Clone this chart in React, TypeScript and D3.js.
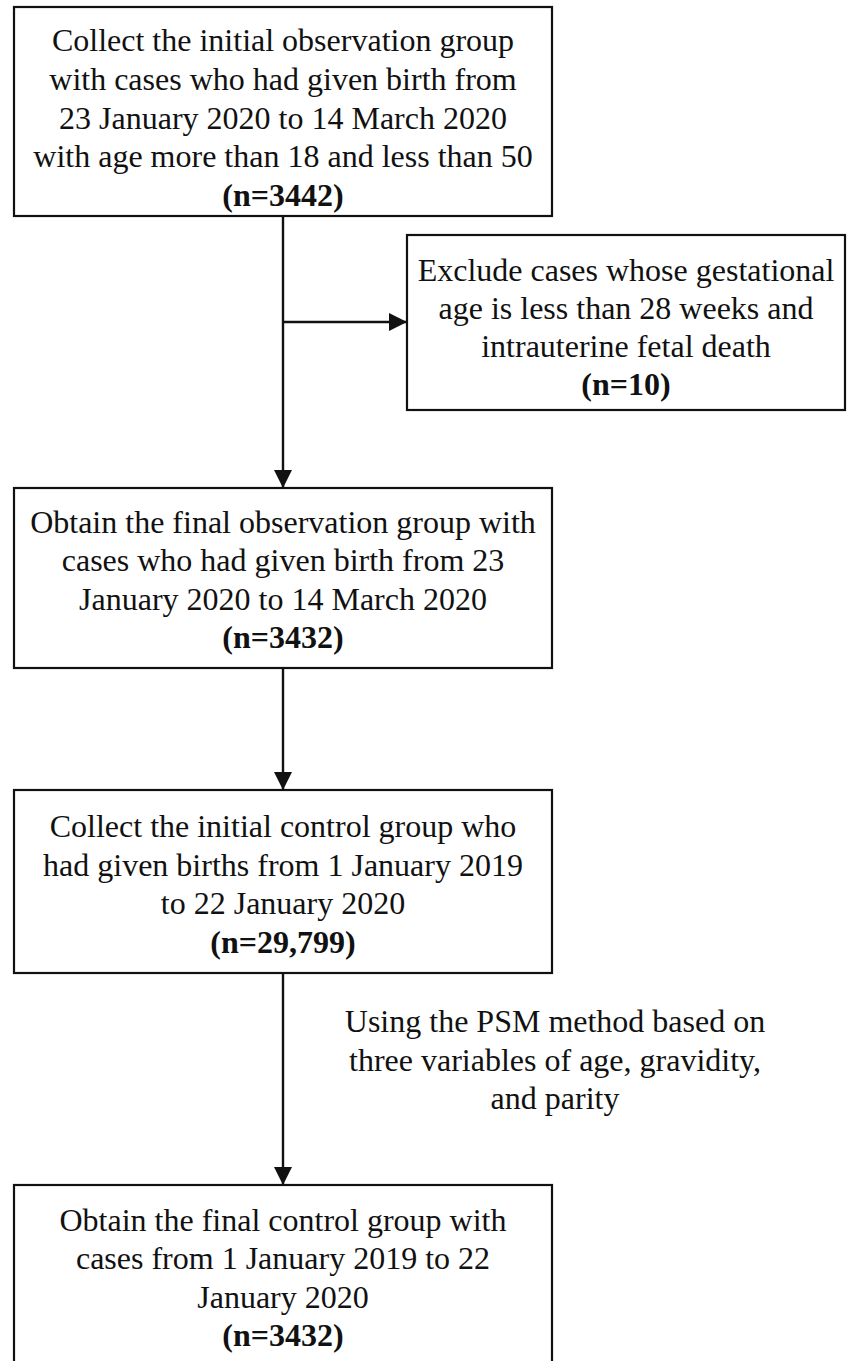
import * as d3 from "d3";

// flowchart content
const box1Lines = [
  "Collect the initial observation group",
  "with cases who had given birth from",
  "23 January 2020 to 14 March 2020",
  "with age more than 18 and less than 50",
];
const box1Count = "(n=3442)";

const excludeLines = [
  "Exclude cases whose gestational",
  "age is less than 28 weeks and",
  "intrauterine fetal death",
];
const excludeCount = "(n=10)";

const box3Lines = [
  "Obtain the final observation group with",
  "cases who had given birth from  23",
  "January 2020 to 14 March 2020",
];
const box3Count = "(n=3432)";

const box4Lines = [
  "Collect the initial control group who",
  "had given births from 1 January 2019",
  "to 22 January 2020",
];
const box4Count = "(n=29,799)";

const psmLines = [
  "Using the PSM method based on",
  "three variables of age, gravidity,",
  "and parity",
];

const box5Lines = [
  "Obtain the final control group with",
  "cases from 1 January 2019 to 22",
  "January 2020",
];
const box5Count = "(n=3432)";

const W = 847;
const H = 1361;
const FONT = "'Liberation Serif', 'Times New Roman', serif";
const FS = 32;

// layout
const nodes = [
  { id: "b1", x0: 14, x1: 552, y0: 7, y1: 216, lines: box1Lines, count: box1Count, firstY: 40, step: 38.8 },
  { id: "b2", x0: 407, x1: 845, y0: 235, y1: 410, lines: excludeLines, count: excludeCount, firstY: 270, step: 38 },
  { id: "b3", x0: 14, x1: 552, y0: 488, y1: 668, lines: box3Lines, count: box3Count, firstY: 522, step: 38.3 },
  { id: "b4", x0: 14, x1: 552, y0: 790, y1: 973, lines: box4Lines, count: box4Count, firstY: 826, step: 38.7 },
  { id: "b5", x0: 14, x1: 552, y0: 1185, y1: 1368, lines: box5Lines, count: box5Count, firstY: 1220, step: 38.3 },
];

const mainX = 283;

const arrows = [
  { x1: mainX, y1: 216, x2: mainX, y2: 488 },
  { x1: mainX, y1: 322, x2: 407, y2: 322 },
  { x1: mainX, y1: 668, x2: mainX, y2: 790 },
  { x1: mainX, y1: 973, x2: mainX, y2: 1185 },
];

const line = d3.line<[number, number]>();

function arrowHead(a: { x1: number; y1: number; x2: number; y2: number }) {
  const ang = Math.atan2(a.y2 - a.y1, a.x2 - a.x1);
  const len = 18;
  const half = 9;
  const bx = a.x2 - len * Math.cos(ang);
  const by = a.y2 - len * Math.sin(ang);
  const px = -Math.sin(ang) * half;
  const py = Math.cos(ang) * half;
  return line([
    [a.x2, a.y2],
    [bx + px, by + py],
    [bx - px, by - py],
  ]) + "Z";
}

export default function App() {
  return (
    <div style={{ position: "absolute", left: 0, top: 0, background: "#fff" }}>
      <svg width={W} height={H} style={{ display: "block", whiteSpace: "pre" }} fontFamily={FONT}>
        <rect width={W} height={H} fill="#fff" />
        {nodes.map((n) => {
          const cx = (n.x0 + n.x1) / 2;
          return (
            <g key={n.id}>
              <rect
                x={n.x0}
                y={n.y0}
                width={n.x1 - n.x0}
                height={n.y1 - n.y0}
                fill="none"
                stroke="#111"
                strokeWidth={2.2}
              />
              {n.lines.map((t, i) => (
                <text
                  key={i}
                  x={cx}
                  y={n.firstY + i * n.step}
                  textAnchor="middle"
                  dominantBaseline="central"
                  fontSize={FS}
                  fill="#111"
                >
                  {t}
                </text>
              ))}
              <text
                x={cx}
                y={n.firstY + n.lines.length * n.step}
                textAnchor="middle"
                dominantBaseline="central"
                fontSize={FS}
                fontWeight="bold"
                fill="#111"
              >
                {n.count}
              </text>
            </g>
          );
        })}
        {arrows.map((a, i) => (
          <g key={i}>
            <path
              d={line([
                [a.x1, a.y1],
                [a.x2, a.y2],
              ]) ?? ""}
              stroke="#111"
              strokeWidth={2.4}
              fill="none"
            />
            <path d={arrowHead(a)} fill="#111" />
          </g>
        ))}
        {psmLines.map((t, i) => (
          <text
            key={i}
            x={555}
            y={1021 + i * 38.5}
            textAnchor="middle"
            dominantBaseline="central"
            fontSize={FS}
            fill="#111"
          >
            {t}
          </text>
        ))}
      </svg>
    </div>
  );
}
